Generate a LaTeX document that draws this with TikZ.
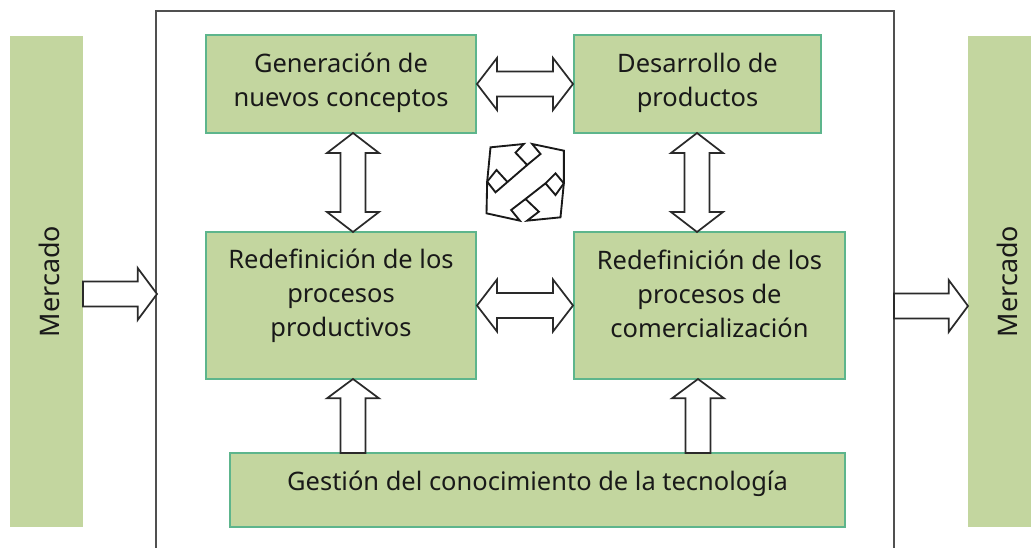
\documentclass[tikz,border=0pt]{standalone}
\usepackage{fontspec}
\setmainfont{Noto Sans}
\usetikzlibrary{calc}
\definecolor{boxfill}{HTML}{C3D69F}
\definecolor{boxline}{HTML}{5DB58C}
\definecolor{framec}{HTML}{505050}
\definecolor{arrowc}{HTML}{2A2A2A}
\tikzset{
  x=0.75pt,y=-0.75pt,
  txt/.style={font=\fontsize{19.1}{25.5}\selectfont,align=center,text=black!90},
  greenbox/.style={draw=boxline,line width=1.5pt,fill=boxfill,inner sep=0pt,txt},
  market/.style={fill=boxfill,inner sep=0pt,minimum width=368.25pt,minimum height=54.75pt,rotate=90,txt,font=\fontsize{20.2}{25.5}\selectfont},
  dblarrow/.style={draw=arrowc,line width=1.3pt,fill=white,miter limit=10,to path={
    let \p1=($(\tikztotarget)-(\tikztostart)$),\n1={atan2(\y1,\x1)},\n2={veclen(\x1,\y1)-15pt} in
    -- ($(\tikztostart)+(\n1:15pt)+(\n1+90:19.5pt)$)
    -- ($(\tikztostart)+(\n1:15pt)+(\n1+90:9.4pt)$)
    -- ($(\tikztostart)+(\n1:\n2)+(\n1+90:9.4pt)$)
    -- ($(\tikztostart)+(\n1:\n2)+(\n1+90:19.5pt)$)
    -- (\tikztotarget)
    -- ($(\tikztostart)+(\n1:\n2)+(\n1-90:19.5pt)$)
    -- ($(\tikztostart)+(\n1:\n2)+(\n1-90:9.4pt)$)
    -- ($(\tikztostart)+(\n1:15pt)+(\n1-90:9.4pt)$)
    -- ($(\tikztostart)+(\n1:15pt)+(\n1-90:19.5pt)$)
    -- cycle}},
  onearrow/.style={draw=arrowc,line width=1.3pt,fill=white,miter limit=10,to path={
    let \p1=($(\tikztotarget)-(\tikztostart)$),\n1={atan2(\y1,\x1)},\n2={veclen(\x1,\y1)-14.5pt} in
    ($(\tikztostart)+(\n1+90:9.3pt)$)
    -- ($(\tikztostart)+(\n1:\n2)+(\n1+90:9.3pt)$)
    -- ($(\tikztostart)+(\n1:\n2)+(\n1+90:19.5pt)$)
    -- (\tikztotarget)
    -- ($(\tikztostart)+(\n1:\n2)+(\n1-90:19.5pt)$)
    -- ($(\tikztostart)+(\n1:\n2)+(\n1-90:9.3pt)$)
    -- ($(\tikztostart)+(\n1-90:9.3pt)$)
    -- cycle}},
  iconline/.style={draw=black!90,line width=1.4pt,line join=miter,fill=white}
}
\begin{document}
\begin{tikzpicture}
\useasboundingbox (0,0) rectangle (1031,548);
\begin{scope}
\clip (0,0) rectangle (1031,548);
\node[draw=framec,line width=1.5pt,minimum width=553.5pt,minimum height=435pt,inner sep=0pt] (frame) at (525,301) {};
\node[market] (ml) at (46.5,281.5) {\raisebox{-2.25pt}[\height][\depth]{Mercado}};
\node[market] (mr) at (1004.5,281.5) {\raisebox{-2.25pt}[\height][\depth]{Mercado}};
\end{scope}

\node[greenbox,minimum width=202.5pt,minimum height=73.5pt] (gen) at (341,84) {Generación de\\nuevos conceptos\\[-19.5pt]\mbox{}};
\node[greenbox,minimum width=185.25pt,minimum height=73.5pt] (des) at (697.5,84) {Desarrollo de\\productos\\[-19.5pt]\mbox{}};
\node[greenbox,minimum width=202.5pt,minimum height=110.25pt] (rp) at (341,305.5) {Redefinición de los\\procesos\\productivos\\[-6.75pt]\mbox{}};
\node[greenbox,minimum width=203.25pt,minimum height=110.25pt] (rc) at (709.5,305.5) {Redefinición de los\\procesos de\\comercialización\\[-7.5pt]\mbox{}};
\node[greenbox,minimum width=461.25pt,minimum height=55.5pt] (ges) at (537.5,490) {\raisebox{4.5pt}[\height][\depth]{Gestión del conocimiento de la tecnología}};

\coordinate (a1) at (353,133); \coordinate (a2) at (353,232);
\coordinate (b1) at (697,133); \coordinate (b2) at (697,232);
\coordinate (c1) at (353,453); \coordinate (c2) at (353,379);
\coordinate (d1) at (698,453); \coordinate (d2) at (698,379);
\coordinate (e1) at (83,294);  \coordinate (e2) at (157,294);
\coordinate (f1) at (894,306); \coordinate (f2) at (968,306);

\draw[dblarrow] (gen.east) to (des.west);
\draw[dblarrow] (rp.east) to (rc.west);
\draw[dblarrow] (a1) to (a2);
\draw[dblarrow] (b1) to (b2);
\draw[onearrow] (c1) to (c2);
\draw[onearrow] (d1) to (d2);
\draw[onearrow] (e1) to (e2);
\draw[onearrow] (f1) to (f2);

\begin{scope}[shift={(470.5,130)},x=0.25pt,y=-0.25pt]
\draw[iconline] (160,42)--(60,52)--(50,155)--(48,250)--(148,272)--(122,240)--(165,207)--(205,245)--(170,272)--(270,262)--(280,160)--(280,62)--(185,42)--(210,72)--(170,105)--(135,68)--cycle;
\draw[iconline,fill=none] (170,105)--(75,187)--(50,155)--(78,120)--(110,155);
\draw[iconline,fill=none] (165,207)--(225,160)--(255,130)--(280,160)--(255,195)--(225,160);
\end{scope}
\end{tikzpicture}
\end{document}
